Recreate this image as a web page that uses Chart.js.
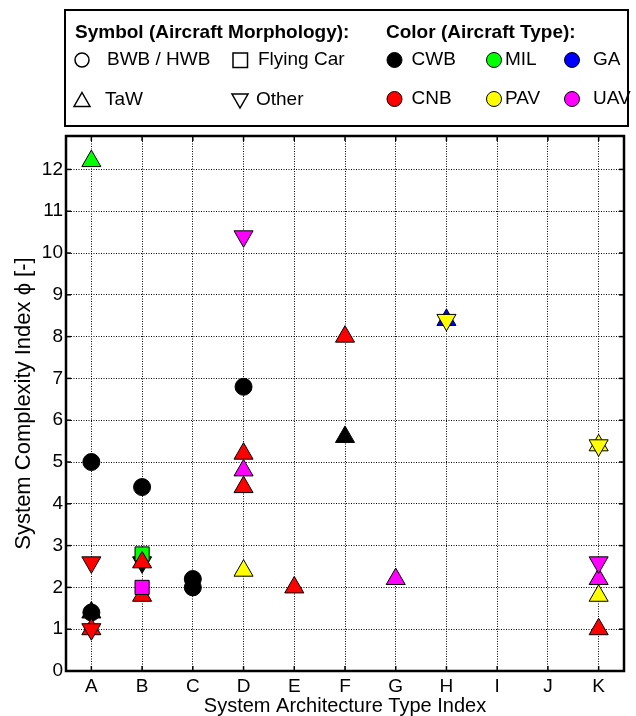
<!DOCTYPE html>
<html>
<head>
<meta charset="utf-8">
<script src="https://cdn.jsdelivr.net/npm/chart.js@4"></script>
<style>
  html, body { margin: 0; padding: 0; background: #fff; }
  canvas { display: block; }
</style>
</head>
<body>
<canvas id="c" width="636" height="716"></canvas>
<script>
// Architecture type categories along the x axis
const categories = ['A', 'B', 'C', 'D', 'E', 'F', 'G', 'H', 'I', 'J', 'K'];
// Complexity index tick values
const yTicks = [0, 1, 2, 3, 4, 5, 6, 7, 8, 9, 10, 11, 12];

// [architecture type, system complexity index] per aircraft type / morphology
const cwbBwb   = [['A', 5.0], ['A', 1.4], ['B', 4.4], ['C', 2.2], ['C', 2.0], ['D', 6.8]];
const cwbTaw   = [['A', 1.4], ['F', 5.6]];
const cwbOther = [['B', 2.6]];
const milCar   = [['B', 2.8]];
const milTaw   = [['A', 12.2]];
const cnbTaw   = [['A', 1.0], ['B', 2.6], ['B', 1.8], ['D', 5.2], ['D', 4.4], ['E', 2.0], ['F', 8.0], ['K', 1.0]];
const cnbOther = [['A', 2.6], ['A', 1.0]];
const gaTaw    = [['H', 8.4]];
const pavTaw   = [['D', 2.4], ['K', 5.4], ['K', 1.8]];
const pavOther = [['H', 8.4], ['K', 5.4]];
const uavTaw   = [['D', 4.8], ['G', 2.2], ['K', 2.2]];
const uavOther = [['D', 10.4], ['K', 2.6]];
const uavCar   = [['B', 2.0]];

// Legend entries
const symbolTitle = 'Symbol (Aircraft Morphology):';
const colorTitle = 'Color (Aircraft Type):';
const shapeNames = ['BWB / HWB', 'Flying Car', 'TaW', 'Other'];
const typeNames = ['CWB', 'MIL', 'GA', 'CNB', 'PAV', 'UAV'];
const typeColors = ['#000000', '#00ff00', '#0000ff', '#ff0000', '#ffff00', '#ff00ff'];

const colorOf = name => typeColors[typeNames.indexOf(name)];

// marker look per morphology
const shapeStyle = {
  bwb:   { pointStyle: 'circle',   pointRadius: 8.5, pointRotation: 0 },
  car:   { pointStyle: 'rect',     pointRadius: 10,  pointRotation: 0 },
  taw:   { pointStyle: 'triangle', pointRadius: 11,  pointRotation: 0 },
  other: { pointStyle: 'triangle', pointRadius: 11,  pointRotation: 180 }
};

// plotted in this order, later series lying on top of earlier ones
const series = [
  [cwbBwb, 'CWB', 'bwb'],
  [cwbTaw, 'CWB', 'taw'],
  [cwbOther, 'CWB', 'other'],
  [milCar, 'MIL', 'car'],
  [milTaw, 'MIL', 'taw'],
  [cnbTaw, 'CNB', 'taw'],
  [cnbOther, 'CNB', 'other'],
  [gaTaw, 'GA', 'taw'],
  [pavTaw, 'PAV', 'taw'],
  [pavOther, 'PAV', 'other'],
  [uavTaw, 'UAV', 'taw'],
  [uavOther, 'UAV', 'other'],
  [uavCar, 'UAV', 'car']
];

// Chart.js paints the first dataset last, so hand them over reversed
const datasets = series.map(([pts, type, shape]) => Object.assign({
  label: type + ' ' + shape,
  data: pts.map(([c, v]) => ({ x: c, y: v })),
  backgroundColor: colorOf(type),
  borderColor: '#000',
  pointBorderWidth: 1,
  pointHoverRadius: 0
}, shapeStyle[shape])).reverse();

const FONT = '"Liberation Sans", Arial, Helvetica, sans-serif';
Chart.defaults.font.family = FONT;
Chart.defaults.color = '#000';

// axes box with inward tick marks on all four sides
const framePlugin = {
  id: 'frame',
  afterDraw(chart) {
    const { ctx, chartArea: a, scales: { x, y } } = chart;
    const seg = (x1, y1, x2, y2) => { ctx.beginPath(); ctx.moveTo(x1, y1); ctx.lineTo(x2, y2); ctx.stroke(); };
    ctx.save();
    ctx.strokeStyle = '#000';
    ctx.lineWidth = 1.5;
    x.ticks.forEach((t, i) => {
      const px = x.getPixelForTick(i);
      seg(px, a.bottom, px, a.bottom - 5);
      seg(px, a.top, px, a.top + 5);
    });
    y.ticks.forEach((t, i) => {
      const py = y.getPixelForTick(i);
      seg(a.left, py, a.left + 5, py);
      seg(a.right, py, a.right - 5, py);
    });
    ctx.lineWidth = 2.5;
    ctx.strokeRect(a.left, a.top, a.right - a.left, a.bottom - a.top);
    ctx.restore();
  }
};

// boxed legend above the axes: morphology symbols and aircraft-type colours
const keyPlugin = {
  id: 'key',
  afterDraw(chart) {
    const ctx = chart.ctx;
    ctx.save();
    ctx.fillStyle = '#fff';
    ctx.fillRect(65, 10, 563, 116);
    ctx.strokeStyle = '#000';
    ctx.lineWidth = 2;
    ctx.strokeRect(65, 10, 563, 116);

    ctx.fillStyle = '#000';
    ctx.textBaseline = 'middle';
    ctx.textAlign = 'left';
    ctx.font = 'bold 19px ' + FONT;
    ctx.fillText(symbolTitle, 75, 33);
    ctx.fillText(colorTitle, 386, 33);

    ctx.font = '19px ' + FONT;
    ctx.lineWidth = 1.5;
    // open morphology symbols
    ctx.beginPath(); ctx.arc(82, 60, 7, 0, Math.PI * 2); ctx.stroke();
    ctx.fillText(shapeNames[0], 107, 60);
    ctx.strokeRect(233, 53, 14.5, 14.5);
    ctx.fillText(shapeNames[1], 258, 60);
    ctx.beginPath(); ctx.moveTo(82, 92.5); ctx.lineTo(90, 106.5); ctx.lineTo(74, 106.5); ctx.closePath(); ctx.stroke();
    ctx.fillText(shapeNames[2], 105, 100);
    ctx.beginPath(); ctx.moveTo(232, 94); ctx.lineTo(248, 94); ctx.lineTo(240, 108); ctx.closePath(); ctx.stroke();
    ctx.fillText(shapeNames[3], 256, 100);

    // filled colour swatches
    const cx = [394.5, 494, 572];
    const tx = [411.5, 505, 593];
    const rows = [60, 99];
    ctx.lineWidth = 1;
    typeNames.forEach((name, i) => {
      const col = i % 3, row = Math.floor(i / 3);
      ctx.beginPath();
      ctx.arc(cx[col], rows[row], 7.5, 0, Math.PI * 2);
      ctx.fillStyle = typeColors[i];
      ctx.fill();
      ctx.stroke();
      ctx.fillStyle = '#000';
      ctx.fillText(name, tx[col], rows[row]);
    });
    ctx.restore();
  }
};

new Chart(document.getElementById('c'), {
  type: 'scatter',
  data: { labels: categories, datasets },
  options: {
    responsive: false,
    devicePixelRatio: 1,
    animation: false,
    events: [],
    layout: { padding: { top: 136, right: 7, left: 0, bottom: 0 } },
    plugins: { legend: { display: false }, tooltip: { enabled: false } },
    scales: {
      x: {
        type: 'category',
        labels: categories,
        offset: true,
        grid: { offset: false, color: '#000', lineWidth: 1, drawTicks: false },
        border: { display: false, dash: [1, 1.5] },
        ticks: { font: { size: 19 }, padding: 4, maxRotation: 0, autoSkip: false },
        title: {
          display: true,
          text: 'System Architecture Type Index',
          font: { size: 20 },
          padding: { top: 0, bottom: -2 }
        },
        afterFit(s) { s.height = 45; }
      },
      y: {
        min: 0,
        max: 12.8,
        afterBuildTicks(s) { s.ticks = yTicks.map(v => ({ value: v })); },
        grid: { color: '#000', lineWidth: 1, drawTicks: false },
        border: { display: false, dash: [1, 1.5] },
        ticks: { font: { size: 19 }, padding: 3, callback: v => String(v) },
        title: {
          display: true,
          text: 'System Complexity Index ϕ [-]',
          font: { size: 22 },
          padding: { top: 11, bottom: 0 }
        },
        afterFit(s) { s.width = 66; }
      }
    }
  },
  plugins: [framePlugin, keyPlugin]
});
</script>
</body>
</html>
